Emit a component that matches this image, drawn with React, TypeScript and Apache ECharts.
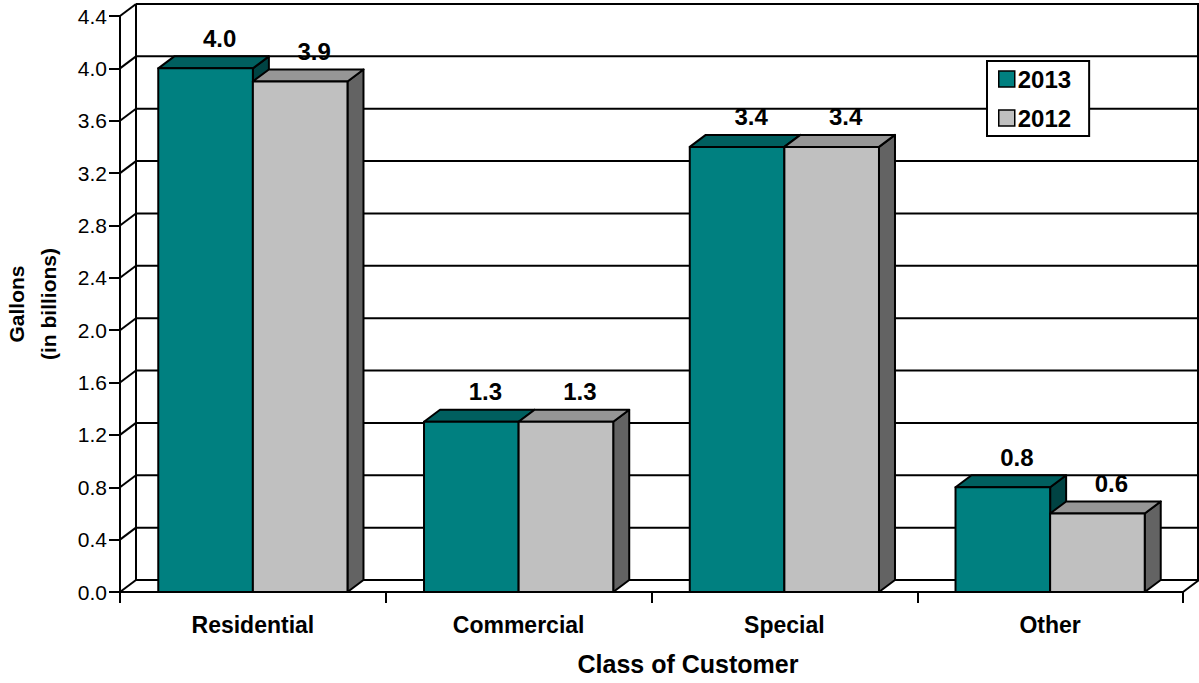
import React, { useEffect, useRef } from "react";
import * as echarts from "echarts";

const CATEGORIES = ["Residential", "Commercial", "Special", "Other"];
const VALUES_2013 = [4.0, 1.3, 3.4, 0.8];
const VALUES_2012 = [3.9, 1.3, 3.4, 0.6];
const Y_TICKS = [0, 0.4, 0.8, 1.2, 1.6, 2.0, 2.4, 2.8, 3.2, 3.6, 4.0, 4.4];
const Y_MIN = 0;
const Y_MAX = 4.4;
const Y_STEP = 0.4;

const FONT = '"Liberation Sans", Arial, sans-serif';
const DX = 16;
const DY = -12;
const BAR_FRAC = 0.356;

const COLORS_2013 = { front: "#008080", top: "#005f5f", side: "#004343" };
const COLORS_2012 = { front: "#c0c0c0", top: "#969696", side: "#636363" };

function barSeries(name: string, values: number[], side: number, colors: any) {
  return {
    type: "custom",
    name,
    z: 2,
    data: values.map((v, i) => [i, v]),
    encode: { x: 0, y: 1 },
    itemStyle: { color: colors.front },
    renderItem: (params: any, api: any) => {
      const cat = api.value(0);
      const v = api.value(1);
      const base = api.coord([cat, 0]);
      const top = api.coord([cat, v]);
      const band = api.size([1, 0])[0];
      const bw = band * BAR_FRAC;
      const x0 = side < 0 ? base[0] - bw : base[0];
      const x1 = x0 + bw;
      const yt = top[1];
      const yb = base[1];
      const stroke = { stroke: "#000", lineWidth: 2, lineJoin: "round" };
      return {
        type: "group",
        children: [
          {
            type: "polygon",
            shape: { points: [[x1, yt], [x1 + DX, yt + DY], [x1 + DX, yb + DY], [x1, yb]] },
            style: { fill: colors.side, ...stroke },
          },
          {
            type: "polygon",
            shape: { points: [[x0, yt], [x1, yt], [x1 + DX, yt + DY], [x0 + DX, yt + DY]] },
            style: { fill: colors.top, ...stroke },
          },
          {
            type: "rect",
            shape: { x: x0, y: yt, width: bw, height: yb - yt },
            style: { fill: colors.front, ...stroke },
          },
          {
            type: "text",
            x: (x0 + x1) / 2 + 14,
            y: yt + DY - 6,
            style: {
              text: Number(v).toFixed(1),
              fill: "#000",
              font: `bold 24px ${FONT}`,
              align: "center",
              verticalAlign: "bottom",
            },
          },
        ],
      };
    },
  };
}

export default function App() {
  const ref = useRef<HTMLDivElement>(null);
  useEffect(() => {
    if (!ref.current) return;
    const chart = echarts.init(ref.current, undefined, { renderer: "svg" });
    const line = (x1: number, y1: number, x2: number, y2: number) => ({
      type: "line",
      shape: { x1, y1, x2, y2 },
      style: { stroke: "#000", lineWidth: 2 },
    });
    const option: any = {
      animation: false,
      backgroundColor: "#fff",
      grid: { left: 120, right: 16, top: 16, bottom: 91, containLabel: false, outerBoundsMode: "none" },
      legend: {
        data: ["2013", "2012"],
        orient: "vertical",
        left: 987,
        top: 61,
        icon: "rect",
        itemWidth: 16,
        itemHeight: 16,
        itemGap: 15,
        padding: [6, 18, 6, 11],
        backgroundColor: "#fff",
        borderColor: "#000",
        borderWidth: 2,
        borderRadius: 0,
        itemStyle: { borderColor: "#000", borderWidth: 1.5 },
        textStyle: { color: "#000", fontWeight: "bold", fontSize: 24, fontFamily: FONT, padding: [0, 0, 0, -2] },
        selectedMode: false,
      },
      xAxis: {
        type: "category",
        data: CATEGORIES,
        axisLine: { lineStyle: { color: "#000", width: 2 } },
        axisTick: { show: true, length: 11, interval: 0, lineStyle: { color: "#000", width: 2 } },
        axisLabel: { color: "#000", fontWeight: "bold", fontSize: 23, fontFamily: FONT, margin: 21, interval: 0 },
        splitLine: { show: false },
        name: "Class of Customer",
        nameLocation: "middle",
        nameGap: 59,
        nameTextStyle: { color: "#000", fontWeight: "bold", fontSize: 25, fontFamily: FONT, padding: [0, 0, 0, 73] },
      },
      yAxis: {
        type: "value",
        min: Y_MIN,
        max: Y_MAX,
        interval: Y_STEP,
        axisLine: { show: true, lineStyle: { color: "#000", width: 2 } },
        axisTick: { show: true, length: 11, lineStyle: { color: "#000", width: 2 } },
        axisLabel: { color: "#000", fontSize: 21, fontFamily: FONT, margin: 13, formatter: (v: number) => v.toFixed(1) },
        splitLine: { show: false },
        name: "Gallons\n(in billions)",
        nameLocation: "middle",
        nameRotate: 90,
        nameGap: 56,
        nameTextStyle: { color: "#000", fontWeight: "bold", fontSize: 21, fontFamily: FONT, lineHeight: 32 },
      },
      series: [
        {
          type: "custom",
          name: "walls",
          z: 1,
          silent: true,
          data: Y_TICKS.map((v) => [0, v]),
          encode: { x: 0, y: 1 },
          renderItem: (params: any, api: any) => {
            const cs = params.coordSys;
            const v = api.value(1);
            const y = api.coord([0, v])[1];
            const left = cs.x;
            const right = cs.x + cs.width;
            const children: any[] = [
              line(left, y, left + DX, y + DY),
              line(left + DX, y + DY, right + DX, y + DY),
            ];
            if (v === 0) {
              const yTop = api.coord([0, Y_MAX])[1];
              children.push(line(right, y, right + DX, y + DY));
              children.push(line(left + DX, y + DY, left + DX, yTop + DY));
              children.push(line(right + DX - 1, y + DY, right + DX - 1, yTop + DY));
            }
            return { type: "group", children };
          },
        },
        barSeries("2013", VALUES_2013, -1, COLORS_2013),
        barSeries("2012", VALUES_2012, 1, COLORS_2012),
      ],
    };
    chart.setOption(option);
    return () => chart.dispose();
  }, []);
  return (
    <div
      ref={ref}
      style={{ position: "fixed", left: 0, top: 0, width: 1199, height: 683, background: "#fff" }}
    />
  );
}
